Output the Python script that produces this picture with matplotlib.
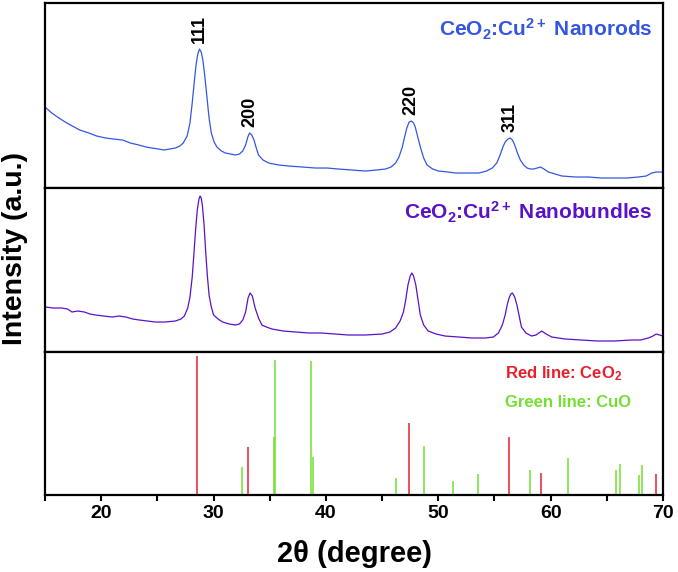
import matplotlib
matplotlib.use('Agg')
import matplotlib.pyplot as plt
from matplotlib.ticker import MultipleLocator

plt.rcParams['font.family'] = ['Liberation Sans', 'DejaVu Sans']
plt.rcParams['font.weight'] = 'bold'
plt.rcParams['mathtext.fontset'] = 'custom'
plt.rcParams['mathtext.rm'] = 'Liberation Sans:bold'
plt.rcParams['mathtext.bf'] = 'Liberation Sans:bold'
plt.rcParams['mathtext.it'] = 'Liberation Sans:bold'
plt.rcParams['mathtext.default'] = 'bf'

# nanorods pattern (arbitrary units)
rods_x = [15.0, 15.6, 16.24, 16.8, 17.43, 18.1, 18.9, 19.6, 20.4, 21.1, 21.9, 22.6, 23.35, 24.0,
          24.5, 25.1, 25.6, 26.1, 26.6, 27.0, 27.3, 27.65, 27.9, 28.1, 28.3, 28.45, 28.6, 28.75,
          28.9, 29.05, 29.2, 29.4, 29.6, 29.8, 30.05, 30.3, 30.7, 31.05, 31.5, 31.95, 32.3, 32.6,
          32.85, 33.05, 33.2, 33.4, 33.6, 33.8, 34.0, 34.4, 34.9, 35.8, 36.7, 37.9, 39.06, 40.1,
          41.1, 42.3, 43.5, 44.5, 45.3, 45.8, 46.2, 46.5, 46.8, 47.0, 47.2, 47.4, 47.6, 47.8,
          47.95, 48.15, 48.4, 48.7, 49.0, 49.5, 50.0, 50.9, 51.5, 52.5, 53.6, 54.3, 54.8, 55.2,
          55.5, 55.75, 55.95, 56.2, 56.4, 56.6, 56.8, 57.05, 57.3, 57.6, 57.9, 58.2, 58.5, 58.8,
          59.1, 59.4, 59.8, 60.4, 61.0, 62.2, 63.4, 64.5, 65.7, 66.8, 67.8, 68.5, 69.0, 69.4,
          69.7, 70.0]
rods_y = [81, 75, 70, 66, 62, 58, 55, 52, 50, 49, 48, 45, 43, 41,
          40, 39, 38, 39, 40, 42, 45, 52, 65, 85, 108, 124, 134, 139,
          136, 128, 114, 92, 70, 55, 46, 41, 37, 35, 34, 33, 34, 37,
          43, 51, 55, 53, 48, 40, 33, 28, 25, 23, 22, 21, 20, 20,
          19, 18, 17, 18, 19, 21, 25, 31, 41, 51, 60, 66, 67, 65,
          61, 52, 41, 30, 23, 19, 17, 16, 15, 15, 15, 17, 20, 25,
          33, 41, 46, 49, 50, 48, 43, 35, 28, 23, 20, 19, 19, 20,
          21, 19, 16, 14, 12, 11, 11, 10, 10, 10, 11, 12, 15, 16,
          16, 16]

# nanobundles pattern
bund_x = [15.05, 15.7, 16.5, 17.0, 17.4, 17.9, 18.5, 19.0, 19.5, 20.2, 21.0, 21.6, 22.2, 22.8,
          23.4, 24.1, 24.8, 25.7, 26.6, 27.1, 27.4, 27.7, 27.9, 28.1, 28.25, 28.4, 28.55, 28.7,
          28.8, 28.9, 29.0, 29.15, 29.3, 29.45, 29.6, 29.8, 30.0, 30.4, 30.8, 31.4, 31.95, 32.3,
          32.6, 32.85, 33.07, 33.25, 33.45, 33.7, 34.0, 34.3, 34.7, 35.2, 36.2, 37.3, 38.5, 39.6,
          40.8, 42.0, 43.5, 45.0, 45.7, 46.2, 46.6, 46.9, 47.1, 47.3, 47.5, 47.65, 47.8, 48.0,
          48.2, 48.4, 48.7, 49.1, 49.8, 50.6, 51.8, 53.0, 54.2, 54.9, 55.35, 55.7, 55.95, 56.15,
          56.3, 56.45, 56.6, 56.8, 57.0, 57.2, 57.4, 57.8, 58.3, 58.7, 59.2, 59.6, 60.1, 60.7,
          61.3, 62.7, 64.2, 65.7, 67.2, 68.0, 68.7, 69.1, 69.4, 70.0]
bund_y = [45, 44, 44, 43, 40, 41, 40, 38, 37, 36, 35, 36, 35, 33,
          32, 31, 30, 30, 31, 33, 36, 44, 55, 75, 98, 122, 142, 153,
          156, 154, 147, 128, 100, 76, 57, 45, 37, 33, 30, 28, 27, 28,
          32, 40, 54, 59, 56, 44, 34, 27, 25, 23, 21, 20, 19, 19,
          18, 17, 17, 18, 20, 24, 31, 40, 52, 67, 76, 79, 76, 67,
          52, 37, 27, 21, 18, 16, 15, 14, 14, 15, 19, 27, 37, 48,
          54, 58, 59, 55, 47, 36, 25, 19, 16, 17, 21, 18, 15, 14,
          13, 12, 11, 11, 12, 12, 14, 16, 18, 16]

# reference sticks
ceo2_pos = [28.5, 33.05, 47.4, 56.3, 59.1, 69.4]
ceo2_int = [139, 48, 72, 58, 22, 21]
cuo_pos = [32.5, 35.35, 35.5, 38.7, 38.85, 46.2, 48.7, 51.3, 53.5, 58.2, 61.5, 65.8, 66.2, 67.9, 68.1]
cuo_int = [28, 58, 135, 134, 38, 17, 49, 14, 21, 25, 37, 25, 31, 20, 30]

hkl = ['111', '200', '220', '311']
hkl_pos = [28.75, 33.2, 47.6, 56.4]
hkl_top = [139, 55, 67, 50]

blue = '#3556e0'
purple = '#5a12c8'
red = '#e8202c'
green = '#72e030'

fig = plt.figure(figsize=(6.78, 5.72), dpi=100)
ax1 = fig.add_axes([0.0664, 0.6713, 0.9115, 0.3234])
ax2 = fig.add_axes([0.0664, 0.3846, 0.9115, 0.2867])
ax3 = fig.add_axes([0.0664, 0.1346, 0.9115, 0.25])

ax1.plot(rods_x, rods_y, color=blue, lw=0.9)
ax1.set_ylim(0, 185)
for lab, p, t in zip(hkl, hkl_pos, hkl_top):
    ax1.text(p, t + 6, lab, rotation=90, ha='center', va='bottom', fontsize=13, fontweight='bold')
ax1.text(0.983, 0.86, r'CeO$_{2}$:Cu$^{2+}$ Nanorods', transform=ax1.transAxes,
         ha='right', va='center', fontsize=15, fontweight='bold', color=blue)

ax2.plot(bund_x, bund_y, color=purple, lw=0.9)
ax2.set_ylim(0, 164)
ax2.text(0.983, 0.85, r'CeO$_{2}$:Cu$^{2+}$ Nanobundles', transform=ax2.transAxes,
         ha='right', va='center', fontsize=15, fontweight='bold', color=purple)

ax3.vlines(ceo2_pos, 0, ceo2_int, color=red, lw=1.1)
ax3.vlines(cuo_pos, 0, cuo_int, color=green, lw=1.1)
ax3.set_ylim(0, 143)
ax3.text(0.745, 0.85, r'Red line: CeO$_{2}$', transform=ax3.transAxes,
         ha='left', va='center', fontsize=12, fontweight='bold', color=red)
ax3.text(0.745, 0.645, 'Green line: CuO', transform=ax3.transAxes,
         ha='left', va='center', fontsize=12, fontweight='bold', color=green)

for ax in [ax1, ax2, ax3]:
    ax.set_xlim(15, 70)
    ax.set_yticks([])
    for s in ax.spines.values():
        s.set_linewidth(1.6)
    if ax is not ax3:
        ax.set_xticks([])

ax3.xaxis.set_major_locator(MultipleLocator(10))
ax3.xaxis.set_minor_locator(MultipleLocator(5))
ax3.tick_params(axis='x', which='both', direction='out', length=4, width=1.5, labelsize=14)
ax3.set_xlabel('2\u03b8 (degree)', fontsize=21, fontweight='bold', labelpad=13)
fig.text(0.022, 0.566, 'Intensity (a.u.)', rotation=90, ha='center', va='center',
         fontsize=20.5, fontweight='bold')

fig.savefig('out.png', dpi=100)
